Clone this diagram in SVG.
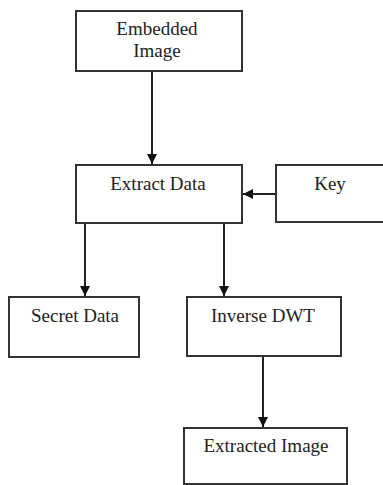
<svg xmlns="http://www.w3.org/2000/svg" width="383" height="485" viewBox="0 0 383 485">
<style>
.box{fill:#fff;stroke:#333;stroke-width:2}
.lbl{font-family:"Liberation Serif","Times New Roman",serif;font-size:19px;fill:#222;text-anchor:middle}
.edge{stroke:#222;stroke-width:2;fill:none;marker-end:url(#ah)}
</style>
<defs>
<marker id="ah" viewBox="0 0 10 10" refX="10" refY="5" markerWidth="5" markerHeight="5" orient="auto" markerUnits="strokeWidth">
<path d="M0,0 L10,5 L0,10 z" fill="#111"/>
</marker>
</defs>
<rect width="383" height="485" fill="#fff"/>
<g id="connectors">
<line class="edge" x1="152" y1="71" x2="152" y2="164"/>
<line class="edge" x1="276" y1="194" x2="243" y2="194"/>
<line class="edge" x1="85" y1="223" x2="85" y2="296"/>
<line class="edge" x1="224" y1="223" x2="224" y2="296"/>
<line class="edge" x1="263" y1="356" x2="263" y2="427"/>
</g>
<g id="embedded-image">
<rect class="box" x="76" y="11" width="166" height="60"/>
<text class="lbl" x="157" y="35">Embedded</text>
<text class="lbl" x="157" y="57">Image</text>
</g>
<g id="extract-data">
<rect class="box" x="76" y="165" width="166" height="58"/>
<text class="lbl" x="158" y="190">Extract Data</text>
</g>
<g id="key">
<rect class="box" x="276" y="165" width="110" height="57"/>
<text class="lbl" x="330" y="190">Key</text>
</g>
<g id="secret-data">
<rect class="box" x="9" y="297" width="130" height="60"/>
<text class="lbl" x="75" y="322">Secret Data</text>
</g>
<g id="inverse-dwt">
<rect class="box" x="187" y="297" width="154" height="59"/>
<text class="lbl" x="263" y="322">Inverse DWT</text>
</g>
<g id="extracted-image">
<rect class="box" x="184" y="428" width="163" height="56"/>
<text class="lbl" x="266" y="452">Extracted Image</text>
</g>
</svg>
